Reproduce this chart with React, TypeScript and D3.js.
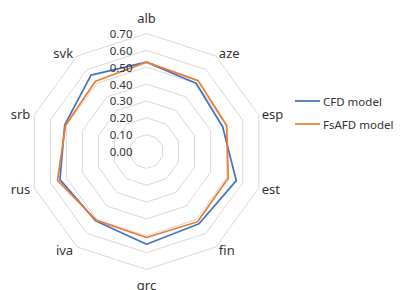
import React from "react";
import * as d3 from "d3";

const categories = ["alb", "aze", "esp", "est", "fin", "grc", "iva", "rus", "srb", "svk"];
const cfdValues = [0.53, 0.50, 0.475, 0.56, 0.53, 0.55, 0.51, 0.54, 0.51, 0.56];
const fsafdValues = [0.53, 0.52, 0.50, 0.51, 0.515, 0.51, 0.505, 0.555, 0.505, 0.515];
const tickValues = [0, 0.1, 0.2, 0.3, 0.4, 0.5, 0.6, 0.7];
const seriesNames = ["CFD model", "FsAFD model"];
const seriesColors = ["#4472C4", "#ED7D31"];

const W = 400;
const H = 290;
const cx = 146.5;
const cy = 151.5;
const R = 118;

export default function App() {
  const r = d3.scaleLinear().domain([0, 0.7]).range([0, R]);
  const angle = d3
    .scaleLinear()
    .domain([0, categories.length])
    .range([0, 2 * Math.PI]);
  const pt = (i: number, v: number): [number, number] => {
    const a = angle(i);
    return [cx + r(v) * Math.sin(a), cy - r(v) * Math.cos(a)];
  };
  const line = d3.line<[number, number]>().curve(d3.curveLinearClosed);
  const font = "'Noto Sans', 'Open Sans', sans-serif";
  const series = [cfdValues, fsafdValues];
  const textColor = "#333333";

  return (
    <svg
      width={W}
      height={H}
      style={{ position: "absolute", left: 0, top: 0, background: "#fff" }}
      fontFamily={font}
    >
      <rect width={W} height={H} fill="#fff" />
      {tickValues
        .filter((t) => t > 0)
        .map((t) => (
          <path
            key={t}
            d={line(categories.map((_, i) => pt(i, t))) || ""}
            fill="none"
            stroke="#d9d9d9"
            strokeWidth={1}
          />
        ))}
      {series.map((vals, s) => (
        <path
          key={s}
          d={line(vals.map((v, i) => pt(i, v))) || ""}
          fill="none"
          stroke={seriesColors[s]}
          strokeWidth={1.75}
          strokeLinejoin="round"
        />
      ))}
      {tickValues.map((t) => (
        <text
          key={t}
          x={cx - 14}
          y={cy - r(t)}
          textAnchor="end"
          dominantBaseline="central"
          fontSize={11.5}
          fill={textColor}
        >
          {t.toFixed(2)}
        </text>
      ))}
      {categories.map((c, i) => {
        const a = angle(i);
        const [vx, vy] = pt(i, 0.7);
        const s = Math.sin(a);
        const co = Math.cos(a);
        let x = vx;
        let y = vy;
        let anchor: "start" | "end" | "middle" = "middle";
        if (Math.abs(s) < 0.01) {
          y = vy - co * 15.5;
        } else {
          anchor = s > 0 ? "start" : "end";
          x = vx + (s > 0 ? 3 : -4);
          y = vy - co * 4;
        }
        return (
          <text
            key={c}
            x={x}
            y={y}
            textAnchor={anchor}
            dominantBaseline="central"
            fontSize={13}
            fill={textColor}
          >
            {c}
          </text>
        );
      })}
      {seriesNames.map((n, s) => {
        const y = 101 + s * 23;
        return (
          <g key={n}>
            <line x1={295} x2={320} y1={y} y2={y} stroke={seriesColors[s]} strokeWidth={1.75} />
            <text x={323} y={y} dominantBaseline="central" fontSize={11.5} fill={textColor}>
              {n}
            </text>
          </g>
        );
      })}
    </svg>
  );
}
